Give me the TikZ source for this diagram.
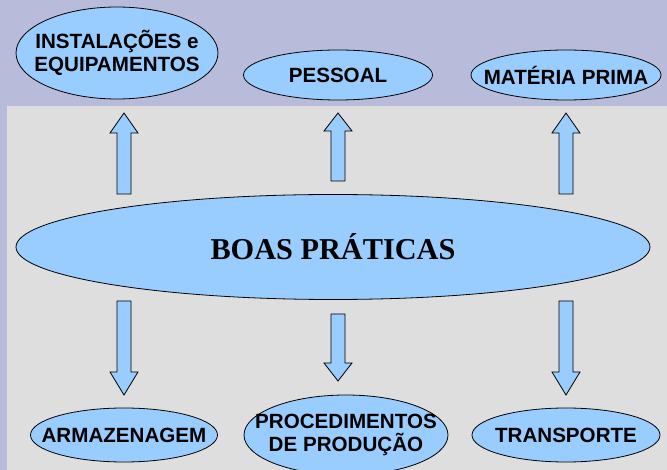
\documentclass[tikz,border=0pt]{standalone}
\usepackage{fontspec}
\setmainfont{Liberation Sans}
\newfontfamily\boasfont{Liberation Serif}
\usetikzlibrary{shapes.geometric, calc}

\definecolor{bandcolor}{HTML}{B8BCDA}
\definecolor{panelcolor}{HTML}{DEDEDE}
\definecolor{bluefill}{HTML}{99CCFF}

\tikzset{
  topic/.style={draw, ellipse, fill=bluefill, line width=0.8pt, inner sep=0pt},
  topictext/.style={align=center, inner sep=0pt, font=\fontsize{20.6}{23.5}\selectfont\bfseries},
  blockarrow/.style={draw, fill=bluefill, line width=0.8pt, line join=miter}
}

% vertical block arrow: start, tip, head length
\newcommand{\blockarrow}[3]{%
  \draw[blockarrow] let \p1=(#1), \p2=(#2), \n1={sign(\y2-\y1)*#3} in
    (\x1-7,\y1) -- (\x1-7,\y2-\n1) -- (\x1-14,\y2-\n1) -- (\x2,\y2)
    -- (\x1+14,\y2-\n1) -- (\x1+7,\y2-\n1) -- (\x1+7,\y1) -- cycle;}

\begin{document}
\begin{tikzpicture}[x=1pt, y=-1pt]
\useasboundingbox (0,0) rectangle (667,470);
\clip (0,0) rectangle (667,470);
\fill[bandcolor] (0,0) rectangle (667,470);
\fill[panelcolor] (7,106) rectangle (667,470);

% centre
\node[topic, minimum width=634pt, minimum height=105pt,
  label={[topictext, font=\fontsize{30.3}{36}\selectfont\boasfont\bfseries]center:BOAS PRÁTICAS}] (boas) at (333,247) {};

% top row
\node[topic, minimum width=202pt, minimum height=92pt,
  label={[topictext]center:INSTALAÇÕES e\\EQUIPAMENTOS}] (inst) at (117,53) {};
\node[topic, minimum width=189pt, minimum height=50pt,
  label={[topictext]center:PESSOAL}] (pessoal) at (338,75) {};
\node[topic, minimum width=190pt, minimum height=50pt,
  label={[topictext]center:MATÉRIA PRIMA}] (materia) at (566,75) {};

% bottom row
\node[topic, minimum width=187pt, minimum height=54pt,
  label={[topictext]center:ARMAZENAGEM}] (armaz) at (124,435) {};
\node[topic, minimum width=204pt, minimum height=80pt,
  label={[topictext]center:PROCEDIMENTOS\\DE PRODUÇÃO}] (proc) at (346,435) {};
\node[topic, minimum width=188pt, minimum height=54pt,
  label={[topictext]center:TRANSPORTE}] (transp) at (566,435) {};

% arrow ends
\coordinate (instFrom) at (124,194);   \coordinate (instTo) at (124,113);
\coordinate (pessFrom) at (338,181);   \coordinate (pessTo) at (338,113);
\coordinate (matFrom) at (566,194);    \coordinate (matTo) at (566,113);
\coordinate (armFrom) at (124,301);    \coordinate (armTo) at (124,395);
\coordinate (procFrom) at (338,314);   \coordinate (procTo) at (338,381);
\coordinate (transFrom) at (566,301);  \coordinate (transTo) at (566,395);

\blockarrow{instFrom}{instTo}{20}
\blockarrow{pessFrom}{pessTo}{18}
\blockarrow{matFrom}{matTo}{20}
\blockarrow{armFrom}{armTo}{23}
\blockarrow{procFrom}{procTo}{18}
\blockarrow{transFrom}{transTo}{23}
\end{tikzpicture}
\end{document}
